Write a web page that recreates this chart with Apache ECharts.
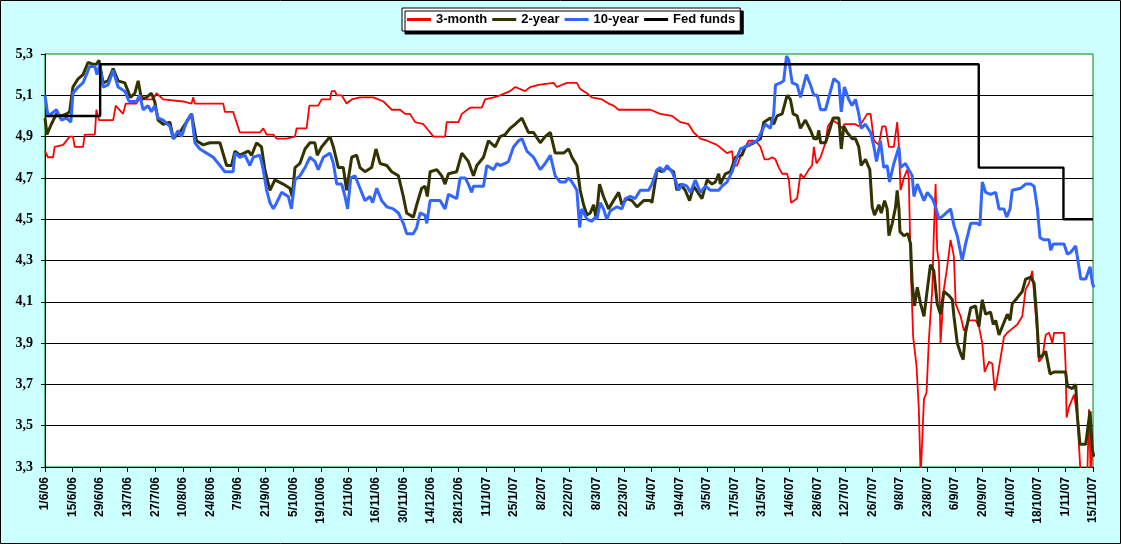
<!DOCTYPE html>
<html>
<head>
<meta charset="utf-8">
<script src="https://cdn.jsdelivr.net/npm/echarts@6/dist/echarts.min.js"></script>
<style>
html, body { margin: 0; padding: 0; background: #CCFFFF; }
#chart { width: 1121px; height: 544px; }
</style>
</head>
<body>
<div id="chart"></div>
<script>
// days counted from 1/6/06
var startDate = Date.UTC(2006, 5, 1);

var names = ['3-month', '2-year', '10-year', 'Fed funds'];

var days3m = [0, 1.5, 4.1, 4.9, 9.2, 12.5, 14.2, 15.1, 19.3, 20.2, 25.3, 26.1, 27.4, 34.6, 35.9, 39.6, 41.0, 46.4, 49.0, 50.7, 54.9, 56.6, 60.0, 70.1, 74.4, 75.2, 76.1, 90.5, 91.3, 95.5, 97.2, 98.9, 109.1, 110.8, 112.5, 115.9, 117.6, 122.6, 126.9, 127.7, 132.8,
	134.2, 138.7, 140.4, 144.7, 145.5, 147.2, 148.1, 150.6, 153.1, 155.7, 159.9, 166.7, 171.8, 176.0, 180.2, 182.8, 185.3, 187.9, 192.1, 195.5, 197.2, 203.1, 203.9, 209.9, 211.6, 215.8, 221.7, 223.4, 227.7, 231.0, 236.1, 238.7, 243.7, 246.3, 250.5, 258.2, 259.8, 264.9,
	270.0, 271.7, 275.1, 277.6, 282.7, 286.1, 288.6, 291.2, 307.3, 312.3, 318.3, 322.5, 326.7, 329.3, 332.7, 336.1, 341.1, 343.7, 346.2, 348.8, 349.6, 351.3, 353.8, 357.2, 359.8, 361.5, 363.2, 365.2, 367.4, 369.1, 370.8, 372.5, 374.2, 376.7, 377.6, 378.7, 381.8, 383.5, 385.2, 387.7, 389.4, 390.3, 391.6,
	393.7, 396.2, 397.4, 399.6, 403.0, 404.7, 405.8, 411.4, 413.1, 414.8, 417.4, 419.1, 420.8, 423.3, 425.0, 426.7, 428.4, 430.9, 432.6, 433.5, 434.3, 435.1, 436.0, 437.7, 438.5, 439.4, 440.7, 442.4, 443.6, 444.5, 445.3, 446.2, 447.5, 448.7, 450.4, 451.2, 452.1, 452.9, 453.8, 454.6, 455.5, 456.3, 458.0, 459.7, 461.4, 462.3, 464.8, 466.5, 469.0, 472.4, 474.1, 475.8, 477.0, 479.2, 480.9, 482.1, 483.4, 485.1, 486.8, 488.5, 491.0, 493.6, 496.1, 497.8, 499.5, 501.2, 502.1, 503.4, 504.6, 506.3, 508.0, 509.7, 511.4, 512.2, 517.3, 518.1, 518.6, 519.8, 521.5, 522.4, 524.1, 525.8, 527.5, 529.2, 530.0, 530.8, 531.7];
var rate3m = [4.83, 4.80, 4.80, 4.85, 4.86, 4.90, 4.90, 4.85, 4.85, 4.91, 4.91, 5.03, 4.98, 4.98, 5.05, 5.01, 5.06, 5.06, 5.10, 5.08, 5.08, 5.11, 5.08, 5.07, 5.06, 5.09, 5.06, 5.06, 5.02, 5.02, 4.97, 4.92, 4.92, 4.94, 4.91, 4.91, 4.89, 4.89, 4.90, 4.94, 4.94,
	5.05, 5.05, 5.08, 5.08, 5.12, 5.12, 5.10, 5.10, 5.06, 5.08, 5.09, 5.09, 5.07, 5.03, 5.03, 5.01, 5.01, 4.97, 4.96, 4.92, 4.90, 4.90, 4.97, 4.97, 5.01, 5.04, 5.04, 5.08, 5.09, 5.10, 5.12, 5.14, 5.12, 5.14, 5.15, 5.16, 5.14, 5.16,
	5.16, 5.13, 5.11, 5.09, 5.08, 5.06, 5.05, 5.03, 5.03, 5.01, 5.00, 4.97, 4.96, 4.92, 4.89, 4.88, 4.86, 4.84, 4.82, 4.83, 4.76, 4.76, 4.82, 4.88, 4.88, 4.87, 4.85, 4.79, 4.79, 4.80, 4.79, 4.75, 4.72, 4.72, 4.69, 4.58, 4.60, 4.72, 4.70, 4.74, 4.76, 4.85, 4.77,
	4.80, 4.87, 4.95, 4.98, 4.96, 4.94, 4.96, 4.96, 4.95, 4.97, 5.01, 5.01, 4.88, 4.86, 4.95, 4.95, 4.85, 4.85, 4.97, 4.85, 4.64, 4.64, 4.70, 4.74, 4.70, 4.29, 3.93, 3.79, 3.58, 3.25, 3.25, 3.63, 3.66, 3.92, 4.16, 4.43, 4.67, 4.35, 4.29, 3.90, 3.90, 4.16, 4.27, 4.40, 4.32, 4.09, 4.03, 3.96, 4.01, 4.01, 3.98, 3.90, 3.76, 3.81, 3.80, 3.67, 3.73, 3.83, 3.93, 3.95, 3.97, 3.99, 4.03, 4.16, 4.19, 4.25, 4.25, 3.98, 3.81, 3.83, 3.94, 3.95, 3.90, 3.95, 3.95, 3.79, 3.54, 3.59, 3.63, 3.65, 3.54, 3.25, 3.25, 3.30, 3.58, 3.27, 3.38];

var days2y = [0, 1.0, 3.2, 5.8, 8.3, 10.9, 12.5, 14.2, 16.8, 19.3, 21.9, 24.4, 26.1, 27.4, 29.5, 32.0, 34.6, 37.1, 40.5, 43.4, 45.6, 47.3, 49.0, 51.5, 54.0, 55.7, 57.4, 60.0, 63.4, 65.1, 68.4, 71.8, 74.4, 76.9, 80.3, 83.7, 88.8, 92.2, 94.7, 96.4, 98.9, 103.2, 104.9, 107.4, 109.9, 111.6, 114.2, 116.7, 120.9, 124.3, 125.5, 126.9,
	129.4, 132.0, 134.5, 137.0, 138.2, 140.4, 144.7, 146.4, 148.9, 151.4, 153.1, 155.7, 158.2, 159.9, 162.4, 165.8, 168.0, 170.1, 173.5, 176.0, 179.4, 181.9, 183.6, 187.0, 188.7, 191.2, 192.9, 194.1, 195.5, 198.9, 201.4, 203.1, 204.8, 209.0, 211.6, 214.9, 217.5, 219.2, 222.6, 225.1, 228.5, 231.0, 233.6, 236.1, 238.7, 242.1, 245.4, 248.0, 251.4, 253.9, 256.5, 259.0, 263.2, 265.8,
	267.5, 270.0, 271.7, 273.4, 275.1, 276.8, 278.5, 279.8, 281.5, 283.5, 286.1, 288.6, 291.2, 292.9, 295.4, 298.0, 300.5, 303.9, 307.3, 308.1, 310.7, 313.2, 315.7, 319.1, 320.8, 322.5, 325.0, 327.2, 329.3, 333.5, 336.1, 338.6, 340.3, 342.0, 342.8, 345.4, 347.9, 350.5, 353.8, 355.5, 359.8, 363.2, 364.9, 368.2, 369.9, 371.6, 374.2, 376.7, 378.4, 379.8, 381.8, 383.5, 386.0, 388.6, 390.3, 392.0, 392.8,
	393.7, 396.2, 397.9, 400.1, 403.0, 404.2, 405.5, 407.2, 409.7, 411.4, 413.1, 414.3, 416.5, 418.7, 419.9, 421.1, 423.3, 424.5, 426.2, 427.5, 428.4, 430.1, 431.8, 432.6, 433.5, 434.0, 436.0, 438.0, 439.4, 440.2, 441.4, 442.8, 444.5, 446.2, 447.9, 449.5, 451.2, 452.9, 454.6, 456.3, 458.9, 460.6, 461.4, 463.1, 464.8, 466.1, 467.3, 469.9, 472.4, 474.1, 475.8, 477.5, 480.0, 481.4, 482.6, 484.3, 486.8, 488.5, 489.9, 491.0, 493.6, 496.1, 497.8, 500.4, 502.1, 503.4, 504.6, 506.3, 508.0, 510.2, 512.2, 518.1, 519.0, 521.5, 523.2, 524.1, 525.4, 528.3, 530.5, 531.7, 532.5];
var rate2y = [4.99, 4.91, 4.96, 5.01, 5.00, 5.01, 5.02, 5.14, 5.18, 5.20, 5.26, 5.25, 5.25, 5.27, 5.16, 5.17, 5.23, 5.17, 5.16, 5.09, 5.11, 5.17, 5.08, 5.09, 5.11, 5.07, 4.98, 4.96, 4.97, 4.89, 4.92, 4.97, 5.01, 4.88, 4.86, 4.87, 4.87, 4.76, 4.76, 4.83, 4.81, 4.83, 4.81, 4.87, 4.85, 4.74, 4.64, 4.69, 4.67, 4.65, 4.61, 4.75,
	4.77, 4.84, 4.87, 4.87, 4.81, 4.85, 4.90, 4.85, 4.75, 4.75, 4.64, 4.80, 4.81, 4.75, 4.73, 4.75, 4.84, 4.77, 4.76, 4.73, 4.71, 4.61, 4.53, 4.51, 4.57, 4.65, 4.66, 4.61, 4.73, 4.74, 4.71, 4.67, 4.72, 4.73, 4.82, 4.78, 4.71, 4.76, 4.80, 4.88, 4.85, 4.90, 4.91, 4.94, 4.96, 4.99, 4.92, 4.92, 4.87, 4.90, 4.92, 4.82, 4.82, 4.84,
	4.80, 4.76, 4.64, 4.57, 4.52, 4.53, 4.57, 4.50, 4.67, 4.61, 4.55, 4.59, 4.63, 4.57, 4.60, 4.59, 4.56, 4.59, 4.59, 4.58, 4.74, 4.73, 4.75, 4.73, 4.64, 4.67, 4.64, 4.59, 4.66, 4.60, 4.69, 4.67, 4.68, 4.72, 4.67, 4.72, 4.73, 4.80, 4.81, 4.85, 4.87, 4.89, 4.97, 4.99, 4.96, 5.00, 5.01, 5.10, 5.08, 5.01, 5.00, 4.94, 4.98, 4.93, 4.89, 4.89, 4.93,
	4.87, 4.87, 4.92, 4.99, 4.99, 4.84, 4.95, 4.92, 4.89, 4.89, 4.85, 4.76, 4.79, 4.74, 4.56, 4.52, 4.57, 4.53, 4.59, 4.55, 4.42, 4.48, 4.56, 4.64, 4.55, 4.44, 4.42, 4.43, 4.38, 4.19, 4.08, 4.17, 4.09, 4.03, 4.16, 4.28, 4.25, 4.09, 4.04, 4.15, 4.13, 4.11, 4.03, 3.90, 3.85, 3.82, 3.95, 4.07, 4.08, 3.98, 4.11, 4.04, 4.05, 3.99, 4.01, 3.94, 4.00, 4.04, 4.01, 4.09, 4.12, 4.15, 4.21, 4.22, 4.19, 4.03, 3.83, 3.84, 3.86, 3.75, 3.76, 3.76, 3.69, 3.68, 3.70, 3.54, 3.41, 3.41, 3.57, 3.38, 3.35];

var days10y = [0, 1.5, 3.2, 5.8, 8.3, 10.9, 13.1, 14.2, 16.8, 19.3, 21.0, 22.7, 25.3, 26.4, 27.8, 29.5, 32.0, 34.6, 37.1, 40.5, 42.7, 46.4, 48.1, 49.8, 52.3, 54.0, 55.7, 57.4, 60.0, 63.4, 65.1, 67.6, 69.3, 71.8, 74.4, 76.1, 78.6, 82.0, 85.4, 88.8, 91.3, 95.5, 96.4, 98.9, 101.5, 104.0, 105.7, 109.1, 110.8, 112.5, 114.2, 115.9, 117.6, 120.1, 123.5, 125.1, 126.9,
	129.4, 132.0, 134.5, 137.0, 138.7, 141.3, 144.7, 146.4, 148.1, 150.6, 152.3, 153.6, 155.2, 157.4, 159.9, 162.4, 165.0, 166.3, 168.4, 170.9, 173.5, 176.8, 179.4, 181.9, 183.6, 187.0, 188.7, 190.4, 192.9, 193.8, 195.5, 200.6, 203.1, 204.8, 209.0, 210.7, 213.3, 214.9, 216.6, 217.5, 222.6, 224.3, 227.7, 229.4, 231.0, 233.6, 235.3, 237.8, 240.4, 242.1, 244.6, 248.0, 251.4, 253.9, 256.5, 259.0, 261.5, 264.1,
	265.8, 267.5, 270.0, 271.4, 272.5, 275.1, 277.6, 279.3, 280.2, 281.9, 283.5, 285.2, 286.9, 290.3, 292.9, 294.6, 297.1, 299.6, 302.2, 306.4, 308.1, 310.7, 312.3, 314.0, 315.7, 318.3, 320.0, 321.7, 323.4, 325.9, 327.6, 330.1, 332.7, 335.2, 337.8, 339.4, 342.0, 343.7, 346.2, 348.8, 350.5, 353.0, 355.5, 358.9, 361.5, 364.0, 365.7, 368.2, 369.9, 370.8, 373.3, 375.0, 376.4, 377.6, 379.3, 381.8, 383.5, 386.5, 388.6, 390.3, 392.0, 393.7, 396.2,
	397.9, 400.4, 403.0, 404.2, 405.8, 408.0, 409.7, 411.4, 413.1, 414.3, 416.5, 419.1, 420.8, 422.1, 424.1, 425.8, 427.5, 428.7, 430.9, 433.5, 434.3, 436.8, 438.5, 440.2, 441.1, 442.8, 444.5, 446.2, 447.9, 450.4, 452.1, 453.8, 456.3, 459.7, 461.4, 463.1, 465.6, 467.3, 469.9, 473.3, 474.6, 475.8, 477.5, 480.0, 482.6, 484.3, 486.8, 488.2, 489.9, 491.0, 495.3, 497.8, 500.4, 502.1, 503.8, 505.1, 507.1, 509.7, 510.5, 511.9, 517.3, 519.0, 520.7, 523.2, 525.8, 528.3, 530.5, 531.7, 532.5];
var rate10y = [5.10, 5.00, 5.01, 5.03, 4.98, 4.99, 4.97, 5.11, 5.14, 5.16, 5.20, 5.24, 5.24, 5.20, 5.25, 5.14, 5.15, 5.22, 5.14, 5.12, 5.07, 5.07, 5.10, 5.03, 5.05, 5.02, 5.05, 4.99, 4.98, 4.95, 4.89, 4.93, 4.90, 4.97, 5.01, 4.87, 4.84, 4.82, 4.80, 4.76, 4.73, 4.73, 4.82, 4.80, 4.81, 4.76, 4.80, 4.81, 4.74, 4.64, 4.58, 4.55, 4.58, 4.63, 4.61, 4.55, 4.69,
	4.71, 4.75, 4.80, 4.78, 4.74, 4.80, 4.82, 4.77, 4.67, 4.67, 4.61, 4.55, 4.70, 4.71, 4.65, 4.59, 4.61, 4.58, 4.65, 4.59, 4.56, 4.55, 4.53, 4.48, 4.43, 4.43, 4.46, 4.53, 4.52, 4.48, 4.59, 4.59, 4.55, 4.62, 4.60, 4.70, 4.70, 4.67, 4.63, 4.66, 4.66, 4.76, 4.74, 4.77, 4.76, 4.77, 4.78, 4.85, 4.88, 4.89, 4.83, 4.80, 4.74, 4.77, 4.81, 4.71, 4.68, 4.68,
	4.70, 4.68, 4.64, 4.46, 4.55, 4.50, 4.49, 4.51, 4.50, 4.58, 4.55, 4.50, 4.54, 4.56, 4.55, 4.60, 4.61, 4.60, 4.64, 4.64, 4.67, 4.74, 4.75, 4.73, 4.76, 4.73, 4.69, 4.64, 4.67, 4.66, 4.63, 4.69, 4.63, 4.66, 4.64, 4.64, 4.64, 4.66, 4.68, 4.73, 4.78, 4.84, 4.85, 4.87, 4.88, 4.93, 4.96, 4.94, 5.01, 5.15, 5.16, 5.17, 5.29, 5.27, 5.16, 5.15, 5.09, 5.20, 5.15, 5.10, 5.10, 5.03, 5.03,
	5.09, 5.18, 5.16, 5.02, 5.14, 5.08, 5.05, 5.08, 5.01, 4.94, 4.96, 4.92, 4.85, 4.78, 4.88, 4.75, 4.76, 4.68, 4.77, 4.85, 4.75, 4.77, 4.74, 4.71, 4.61, 4.67, 4.63, 4.59, 4.63, 4.60, 4.56, 4.50, 4.52, 4.55, 4.47, 4.42, 4.30, 4.38, 4.48, 4.48, 4.47, 4.68, 4.63, 4.62, 4.63, 4.55, 4.55, 4.51, 4.55, 4.64, 4.65, 4.67, 4.67, 4.66, 4.55, 4.41, 4.40, 4.40, 4.35, 4.38, 4.38, 4.33, 4.34, 4.37, 4.21, 4.21, 4.27, 4.19, 4.17];

var daysFed = [0, 28, 28, 474, 474, 517, 517, 532];
var rateFed = [5.00, 5.00, 5.25, 5.25, 4.75, 4.75, 4.50, 4.50];

var colors = ['#FF0000', '#333300', '#3366FF', '#000000'];
var widths = [1.8, 3, 3, 2.4];

function pairs(days, vals) {
	return days.map(function(d, i) {
		return [d, vals[i]];
	});
}

function dayLabel(v) {
	var d = new Date(startDate + v * 86400000);
	return d.getUTCDate() + '/' + (d.getUTCMonth() + 1) + '/' + String(d.getUTCFullYear()).slice(2);
}

var seriesData = [pairs(days3m, rate3m), pairs(days2y, rate2y), pairs(days10y, rate10y), pairs(daysFed, rateFed)];

var chart = echarts.init(document.getElementById('chart'));

var option = {
	animation: false,
	backgroundColor: '#CCFFFF',
	textStyle: {
		fontFamily: 'Liberation Sans, Arial, sans-serif'
	},
	graphic: [{
		type: 'rect',
		shape: { x: 0.5, y: 0.5, width: 1120, height: 543 },
		style: { fill: 'none', stroke: '#000', lineWidth: 1 },
		silent: true
	}],
	legend: {
		data: names,
		left: 402,
		top: 8,
		padding: [5, 5, 5, 5],
		itemGap: 5,
		itemWidth: 24,
		itemHeight: 3,
		icon: 'rect',
		backgroundColor: '#FFFFFF',
		borderColor: '#000000',
		borderWidth: 1,
		borderRadius: 0,
		shadowColor: '#000000',
		shadowBlur: 0,
		shadowOffsetX: 3,
		shadowOffsetY: 3,
		textStyle: {
			fontWeight: 'bold',
			fontSize: 13,
			color: '#000'
		}
	},
	grid: {
		left: 45,
		right: 28,
		top: 54,
		bottom: 77,
		show: true,
		backgroundColor: '#FFFFFF',
		borderColor: '#008000',
		borderWidth: 1
	},
	xAxis: {
		type: 'value',
		min: 0,
		max: 532,
		interval: 14,
		axisLine: { show: true, onZero: false, lineStyle: { color: '#000', width: 1 } },
		axisTick: { show: true, length: 5, lineStyle: { color: '#000' } },
		splitLine: { show: false },
		axisLabel: {
			rotate: 90,
			margin: 10,
			fontWeight: 'bold',
			fontSize: 12,
			color: '#000',
			formatter: dayLabel
		}
	},
	yAxis: {
		type: 'value',
		min: 3.3,
		max: 5.3,
		interval: 0.2,
		axisLine: { show: true, lineStyle: { color: '#000', width: 1 } },
		axisTick: { show: true, length: 4, lineStyle: { color: '#000' } },
		splitLine: { show: true, showMaxLine: false, lineStyle: { color: '#000', width: 1 } },
		axisLabel: {
			margin: 12,
			fontFamily: 'Liberation Serif, Times New Roman, serif',
			fontWeight: 'bold',
			fontSize: 14,
			color: '#000',
			formatter: function(v) {
				return v.toFixed(1).replace('.', ',');
			}
		}
	},
	series: names.map(function(name, i) {
		return {
			name: name,
			type: 'line',
			data: seriesData[i],
			showSymbol: false,
			symbol: 'none',
			clip: true,
			color: colors[i],
			lineStyle: { color: colors[i], width: widths[i] }
		};
	})
};

chart.setOption(option);
</script>
</body>
</html>
